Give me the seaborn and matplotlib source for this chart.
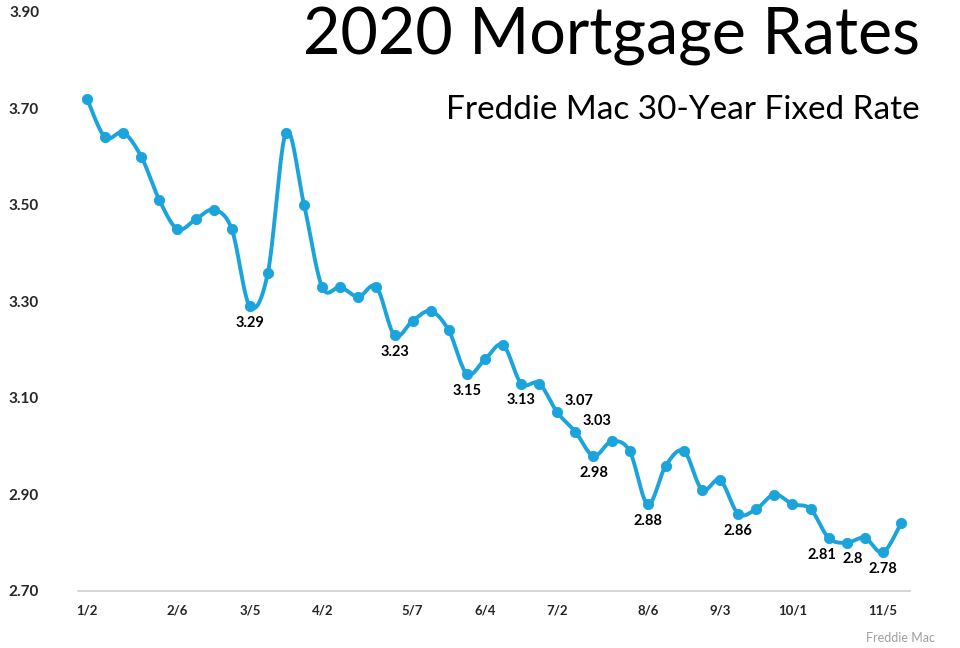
import numpy as np
import pandas as pd
import matplotlib
matplotlib.use("Agg")
import matplotlib.pyplot as plt
import seaborn as sns

weeks = ["1/2","1/9","1/16","1/23","1/30","2/6","2/13","2/20","2/27","3/5","3/12","3/19","3/26",
         "4/2","4/9","4/16","4/23","4/30","5/7","5/14","5/21","5/28","6/4","6/11","6/18","6/25",
         "7/2","7/9","7/16","7/23","7/30","8/6","8/13","8/20","8/27","9/3","9/10","9/17","9/24",
         "10/1","10/8","10/15","10/22","10/29","11/5","11/12"]
rates = [3.72,3.64,3.65,3.60,3.51,3.45,3.47,3.49,3.45,3.29,3.36,3.65,3.50,
         3.33,3.33,3.31,3.33,3.23,3.26,3.28,3.24,3.15,3.18,3.21,3.13,3.13,
         3.07,3.03,2.98,3.01,2.99,2.88,2.96,2.99,2.91,2.93,2.86,2.87,2.90,
         2.88,2.87,2.81,2.80,2.81,2.78,2.84]
tick_labels = ["1/2","2/6","3/5","4/2","5/7","6/4","7/2","8/6","9/3","10/1","11/5"]
labeled_below = ["3/5","4/30","5/28","6/18","7/16","8/6","9/10","10/15","10/22","11/5"]
labeled_right = ["7/2","7/9"]
yticks = [2.70, 2.90, 3.10, 3.30, 3.50, 3.70, 3.90]

# label nudges (points) to avoid collisions, as in the reference
nudge = {"10/15": -5, "10/22": 4}

color = "#1BA3DB"
df = pd.DataFrame({"week": weeks, "rate": rates, "idx": np.arange(len(weeks))})

def catmull(x, y, n=20):
    xs, ys = [], []
    P = np.column_stack([x, y]).astype(float)
    P = np.vstack([P[0], P, P[-1]])
    for i in range(1, len(P) - 2):
        p0, p1, p2, p3 = P[i-1], P[i], P[i+1], P[i+2]
        t = np.linspace(0, 1, n, endpoint=False)[:, None]
        c = 0.5 * ((2*p1) + (-p0 + p2)*t + (2*p0 - 5*p1 + 4*p2 - p3)*t**2 + (-p0 + 3*p1 - 3*p2 + p3)*t**3)
        xs.append(c[:, 0]); ys.append(c[:, 1])
    xs.append([P[-2][0]]); ys.append([P[-2][1]])
    return np.concatenate(xs), np.concatenate(ys)

sx, sy = catmull(df["idx"].values, df["rate"].values)
smooth = pd.DataFrame({"x": sx, "y": sy})

sns.set_style("white")
plt.rcParams["font.family"] = ["Lato", "DejaVu Sans"]

fig = plt.figure(figsize=(9.6, 6.48), dpi=100)
ax = fig.add_axes([78/960, 1 - 591/648, (910-78)/960, (591-12)/648])

sns.lineplot(data=smooth, x="x", y="y", ax=ax, color=color, linewidth=2.8, sort=False, estimator=None)
sns.scatterplot(data=df, x="idx", y="rate", ax=ax, color=color, s=55, edgecolor=color, zorder=3)

for _, r in df.iterrows():
    if r["week"] in labeled_below:
        lab = f"{r['rate']:g}"
        ax.annotate(lab, (r["idx"], r["rate"]), xytext=(nudge.get(r["week"], 0), -7), textcoords="offset points",
                    ha="center", va="top", fontsize=10.5, fontweight="bold", color="black")
    elif r["week"] in labeled_right:
        ax.annotate(f"{r['rate']:.2f}", (r["idx"], r["rate"]), xytext=(5, 3), textcoords="offset points",
                    ha="left", va="bottom", fontsize=10.5, fontweight="bold", color="black")

ax.set_xlim(-0.5, len(weeks) - 0.5)
ax.set_ylim(2.70, 3.90)
ax.set_yticks(yticks)
ax.set_yticklabels([f"{v:.2f}" for v in yticks], fontsize=11, fontweight="bold")
tick_pos = [weeks.index(t) for t in tick_labels]
ax.set_xticks(tick_pos)
ax.set_xticklabels(tick_labels, fontsize=9.5, fontweight="bold")
ax.set_xticks(np.arange(-0.5, len(weeks), 1), minor=True)
ax.tick_params(axis="x", which="major", length=0, pad=10)
ax.tick_params(axis="x", which="minor", length=4, color="#D0D0D0", width=1)
ax.tick_params(axis="y", length=0, pad=28)
ax.set_xlabel("")
ax.set_ylabel("")
for s in ["top", "right", "left"]:
    ax.spines[s].set_visible(False)
ax.spines["bottom"].set_color("#D0D0D0")
ax.spines["bottom"].set_linewidth(1.2)
ax.grid(False)

fig.text(920/960, 1 - 36/648, "2020 Mortgage Rates", ha="right", va="center", fontsize=46.5, color="black")
fig.text(920/960, 1 - 110/648, "Freddie Mac 30-Year Fixed Rate", ha="right", va="center", fontsize=24, color="black")
fig.text(935/960, 1 - 638/648, "Freddie Mac", ha="right", va="center", fontsize=9, color="#A0A0A0")

fig.savefig("out.png", dpi=100, facecolor="white")
